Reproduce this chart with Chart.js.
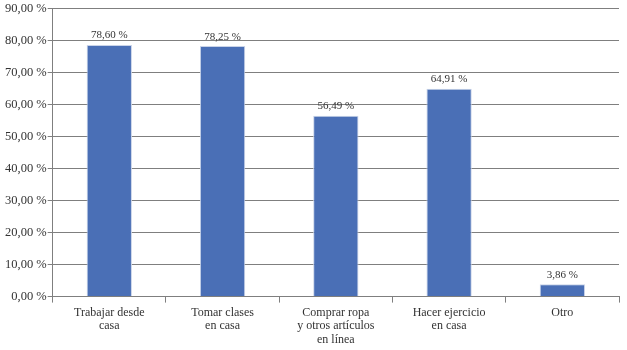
<!DOCTYPE html>
<html>
<head>
<meta charset="utf-8">
<script src="https://cdn.jsdelivr.net/npm/chart.js@4"></script>
<style>
  html, body { margin: 0; padding: 0; background: #fff; }
  #wrap { width: 627px; height: 350px; }
</style>
</head>
<body>
<div id="wrap"><canvas id="chart"></canvas></div>
<script>
// Categories (multi-line labels) and values
const categories = [
  ["Trabajar desde", "casa"],
  ["Tomar clases", "en casa"],
  ["Comprar ropa", "y otros artículos", "en línea"],
  ["Hacer ejercicio", "en casa"],
  ["Otro"]
];
const values = [78.60, 78.25, 56.49, 64.91, 3.86];
const yTicks = [0, 10, 20, 30, 40, 50, 60, 70, 80, 90];

function fmt(v) {
  return v.toFixed(2).replace(".", ",") + " %";
}

// Draw value labels above each bar
const barLabels = {
  id: "barLabels",
  afterDatasetsDraw(chart) {
    const ctx = chart.ctx;
    const meta = chart.getDatasetMeta(0);
    ctx.save();
    ctx.font = "11px 'Liberation Serif', serif";
    ctx.fillStyle = "#333";
    ctx.textAlign = "center";
    ctx.textBaseline = "bottom";
    meta.data.forEach((bar, i) => {
      ctx.fillText(fmt(values[i]), bar.x, bar.y - 4);
    });
    ctx.restore();
  }
};

const ctx = document.getElementById("chart").getContext("2d");
new Chart(ctx, {
  type: "bar",
  data: {
    labels: categories,
    datasets: [{
      data: values,
      backgroundColor: "#4a6fb6",
      borderColor: "#c9d3e8",
      borderWidth: { top: 1, left: 1, right: 1, bottom: 0 },
      barPercentage: 0.4,
      categoryPercentage: 1.0
    }]
  },
  options: {
    responsive: true,
    maintainAspectRatio: false,
    animation: false,
    layout: { padding: { top: 2, right: 8, left: 4, bottom: 0 } },
    plugins: {
      legend: { display: false },
      tooltip: { enabled: false }
    },
    scales: {
      x: {
        grid: {
          drawOnChartArea: false,
          drawTicks: true,
          tickLength: 6,
          color: "#7f7f7f",
          offset: true
        },
        border: { color: "#7f7f7f" },
        ticks: {
          color: "#333",
          font: { family: "'Liberation Serif', serif", size: 12, lineHeight: 1.15 },
          maxRotation: 0,
          autoSkip: false,
          padding: 3
        }
      },
      y: {
        min: 0,
        max: 90,
        afterBuildTicks(axis) {
          axis.ticks = yTicks.map(v => ({ value: v }));
        },
        grid: {
          color: "#7f7f7f",
          tickLength: 5
        },
        border: { color: "#7f7f7f" },
        ticks: {
          color: "#333",
          font: { family: "'Liberation Serif', serif", size: 12.5 },
          padding: 1,
          callback: v => fmt(v)
        }
      }
    }
  },
  plugins: [barLabels]
});
</script>
</body>
</html>
